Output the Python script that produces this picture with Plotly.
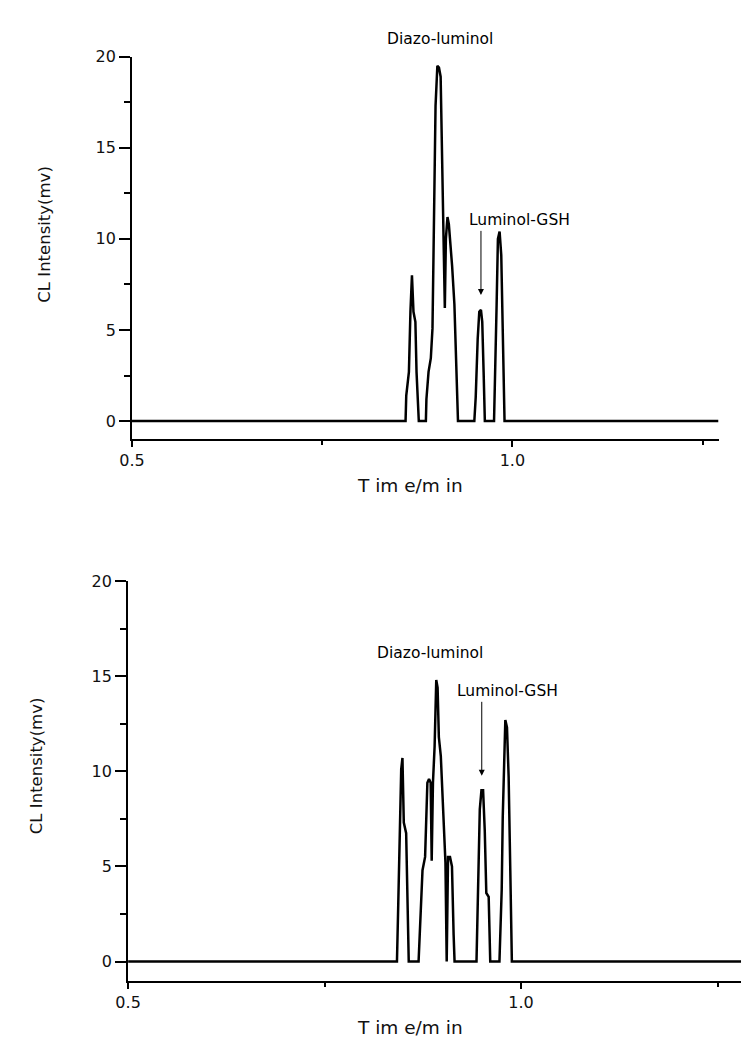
import plotly.graph_objects as go

# ---------------- data ----------------
top_time = [0.5, 0.8596, 0.8605, 0.864, 0.866, 0.868, 0.870, 0.8725, 0.874, 0.877,
            0.8863, 0.887, 0.8898, 0.8928, 0.895, 0.897, 0.899, 0.9014, 0.9035, 0.9057,
            0.908, 0.910, 0.9112, 0.9126, 0.9147, 0.9165, 0.919, 0.9208, 0.9238, 0.926, 0.9285,
            0.950, 0.9518, 0.9544, 0.9565, 0.9587, 0.9604, 0.9622, 0.9638,
            0.9759, 0.9777, 0.9793, 0.981, 0.9832, 0.9854, 0.9875, 0.9897, 1.271]
top_cl = [0, 0, 1.4, 2.7, 6.0, 8.0, 6.0, 5.45, 2.7, 0,
          0, 1.2, 2.7, 3.45, 5.1, 10.0, 17.3, 19.5, 19.4, 18.9,
          13.6, 9.1, 6.2, 10.0, 11.2, 10.8, 9.6, 8.5, 6.4, 3.6, 0,
          0, 1.3, 4.5, 6.0, 6.1, 5.45, 2.7, 0,
          0, 2.7, 6.4, 10.0, 10.4, 9.1, 4.5, 0, 0]

bot_time = [0.5, 0.8421, 0.8438, 0.8454, 0.8475, 0.8491, 0.8508, 0.8538, 0.8558, 0.8571,
            0.8696, 0.8713, 0.8746, 0.8779, 0.8808, 0.8829, 0.885, 0.8863, 0.8879, 0.890,
            0.8921, 0.8938, 0.8954, 0.8979, 0.9017, 0.9038, 0.9054, 0.9071, 0.9096, 0.9121,
            0.9142, 0.9154,
            0.9433, 0.9454, 0.9475, 0.9496, 0.9517, 0.9538, 0.9558, 0.9588, 0.9608,
            0.9725, 0.9754, 0.9767, 0.9788, 0.980, 0.9821, 0.9842, 0.9863, 0.9883, 1.28]
bot_cl = [0, 0, 3.1, 5.9, 10.1, 10.7, 7.3, 6.75, 1.4, 0,
          0, 1.7, 4.8, 5.5, 9.4, 9.6, 9.4, 5.3, 9.4, 11.3,
          14.8, 14.4, 11.8, 10.8, 7.3, 5.2, 0, 5.5, 5.5, 5.0,
          1.4, 0,
          0, 3.8, 8.0, 9.0, 9.0, 6.9, 3.6, 3.4, 0,
          0, 3.8, 7.6, 11.8, 12.7, 12.3, 9.7, 4.8, 0, 0]

y_ticks = [0, 5, 10, 15, 20]
y_minor = [2.5, 7.5, 12.5, 17.5]
x_ticks = [0.5, 1.0]
x_ticktext = ["0.5", "1.0"]
x_minor = [0.75, 1.25]

# page has an 8px body margin: figure is 740x1034 so the page is 756x1050
W, H = 740, 1034
OFF = 8


def px(x):
    return (x - OFF) / W


def py(y):
    return 1 - (y - OFF) / H


FONT = "DejaVu Sans, Verdana, sans-serif"
INK = "#111111"

fig = go.Figure()
fig.add_trace(go.Scatter(x=top_time, y=top_cl, mode="lines",
                         line=dict(color="black", width=2.5), xaxis="x", yaxis="y",
                         showlegend=False, hoverinfo="skip"))
fig.add_trace(go.Scatter(x=bot_time, y=bot_cl, mode="lines",
                         line=dict(color="black", width=2.5), xaxis="x2", yaxis="y2",
                         showlegend=False, hoverinfo="skip"))


def xax(domain, rng, anchor):
    return dict(domain=domain, range=rng, anchor=anchor, showline=True, linecolor="black",
                linewidth=2, showgrid=False, zeroline=False, ticks="outside", ticklen=6,
                tickwidth=2, tickcolor="black", tickvals=x_ticks, ticktext=x_ticktext,
                tickfont=dict(family=FONT, size=16, color=INK),
                minor=dict(tickvals=x_minor, ticks="outside", ticklen=4, tickwidth=2,
                           tickcolor="black"),
                fixedrange=True)


def yax(domain, anchor):
    return dict(domain=domain, range=[-1, 20], anchor=anchor, showline=True,
                linecolor="black", linewidth=2, showgrid=False, zeroline=False,
                ticks="outside", ticklen=11, tickwidth=2, tickcolor="black",
                tickvals=y_ticks, tickfont=dict(family=FONT, size=16, color=INK),
                minor=dict(tickvals=y_minor, ticks="outside", ticklen=6, tickwidth=2,
                           tickcolor="black"),
                fixedrange=True)


fig.update_layout(
    width=W, height=H, margin=dict(l=0, r=0, t=0, b=0),
    paper_bgcolor="white", plot_bgcolor="white",
    xaxis=xax([px(121), px(718)], [0.5, 1.271], "y"),
    yaxis=yax([py(434), py(48)], "x"),
    xaxis2=xax([px(117), px(741)], [0.5, 1.28], "y2"),
    yaxis2=yax([py(980), py(577)], "x2"),
)

anns = []
# axis titles
for xc, yc in ((32, 227), (24, 763)):
    anns.append(dict(text="CL Intensity(mv)", x=px(xc), y=py(yc), xref="paper",
                     yref="paper", textangle=-90, showarrow=False,
                     font=dict(family=FONT, size=16.5, color=INK),
                     xanchor="center", yanchor="middle"))
for yc in (481, 1027):
    anns.append(dict(text="T im e/m in", x=px(404), y=py(yc), xref="paper",
                     yref="paper", showarrow=False,
                     font=dict(family=FONT, size=18.5, color=INK),
                     xanchor="center", yanchor="middle"))

LBL = dict(family=FONT, size=15.5, color="black")
anns += [
    dict(text="Diazo-luminol", x=px(434), y=py(30), xref="paper", yref="paper",
         showarrow=False, xanchor="center", yanchor="middle", font=LBL),
    dict(text="Luminol-GSH", x=px(462), y=py(213), xref="paper", yref="paper",
         showarrow=False, xanchor="left", yanchor="middle", font=LBL),
    dict(text="Diazo-luminol", x=px(424), y=py(650), xref="paper", yref="paper",
         showarrow=False, xanchor="center", yanchor="middle", font=LBL),
    dict(text="Luminol-GSH", x=px(450), y=py(688), xref="paper", yref="paper",
         showarrow=False, xanchor="left", yanchor="middle", font=LBL),
    # arrows
    dict(text="", x=0.9587, y=6.92, ax=0.9587, ay=10.52, xref="x", yref="y",
         axref="x", ayref="y", showarrow=True, arrowhead=2, arrowsize=1.2, arrowwidth=1,
         arrowcolor="black", standoff=0),
    dict(text="", x=0.95, y=9.77, ax=0.95, ay=13.73, xref="x2", yref="y2",
         axref="x2", ayref="y2", showarrow=True, arrowhead=2, arrowsize=1.2, arrowwidth=1,
         arrowcolor="black", standoff=0),
]
fig.update_layout(annotations=anns)

fig.write_html("out.html")
